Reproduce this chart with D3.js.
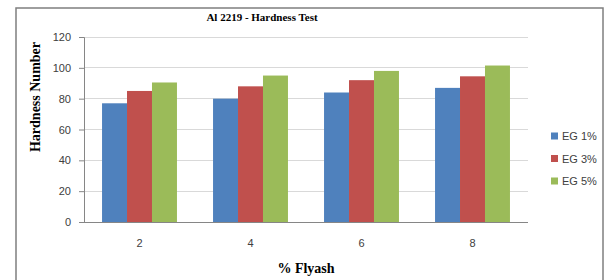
<!DOCTYPE html>
<html><head><meta charset="utf-8">
<script src="https://cdn.jsdelivr.net/npm/d3@7"></script>
<style>body{margin:0;background:#fff}svg{display:block}</style>
</head><body>
<svg id="c" width="605" height="280"></svg>
<script>
const categories = ["2", "4", "6", "8"];
const seriesNames = ["EG 1%", "EG 3%", "EG 5%"];
const eg1 = [77, 80, 84, 87];
const eg3 = [85, 88, 92, 94.5];
const eg5 = [90.5, 95, 98, 101.5];
const yTicks = [0, 20, 40, 60, 80, 100, 120];
const colors = ["#4F81BD", "#C0504D", "#9BBB59"];
const seriesValues = [eg1, eg3, eg5];

const svg = d3.select("#c");
const m = {l: 84, r: 528, t: 37, b: 222};

svg.append("rect").attr("x", 16).attr("y", 8).attr("width", 587).attr("height", 290)
  .attr("fill", "none").attr("stroke", "#7f7f7f").attr("stroke-width", 1.5);

const x = d3.scaleBand().domain(categories).range([m.l, m.r]).paddingInner(0.325).paddingOuter(0.1625);
const xs = d3.scaleBand().domain(seriesNames).range([0, x.bandwidth()]);
const y = d3.scaleLinear().domain([0, 120]).range([m.b, m.t]);

// gridlines
svg.append("g").selectAll("line").data(yTicks).join("line")
  .attr("x1", m.l).attr("x2", m.r).attr("y1", d => y(d)).attr("y2", d => y(d))
  .attr("stroke", "#d9d9d9").attr("stroke-width", 1).attr("shape-rendering", "crispEdges");

// bars
const g = svg.append("g");
seriesValues.forEach((vals, si) => {
  g.selectAll(null).data(vals).join("rect")
    .attr("x", (d, i) => x(categories[i]) + xs(seriesNames[si]))
    .attr("width", xs.bandwidth())
    .attr("y", d => y(d)).attr("height", d => y(0) - y(d))
    .attr("fill", colors[si]);
});

// y axis
const ya = svg.append("g").attr("transform", `translate(${m.l},0)`)
  .call(d3.axisLeft(y).tickValues(yTicks).tickSize(5).tickPadding(8));
ya.select(".domain").attr("stroke", "#868686");
ya.selectAll(".tick line").attr("stroke", "#868686");
ya.selectAll("text").attr("font-family", "Liberation Sans, Arial, sans-serif").attr("font-size", 11).attr("fill", "#404040");

// x axis baseline
svg.append("line").attr("x1", m.l).attr("x2", m.r).attr("y1", y(0)).attr("y2", y(0))
  .attr("stroke", "#868686").attr("shape-rendering", "crispEdges");
svg.append("g").selectAll("text").data(categories).join("text")
  .attr("x", d => x(d) + x.bandwidth() / 2).attr("y", 247)
  .attr("text-anchor", "middle").attr("font-family", "Liberation Sans, Arial, sans-serif")
  .attr("font-size", 11).attr("fill", "#404040").text(d => d);

// title
svg.append("text").attr("x", 262).attr("y", 21).attr("text-anchor", "middle")
  .attr("font-family", "Liberation Serif, Times New Roman, serif").attr("font-weight", "bold")
  .attr("font-size", 11).text("Al 2219 - Hardness Test");

// axis titles
svg.append("text").attr("transform", "translate(40,97) rotate(-90)").attr("text-anchor", "middle")
  .attr("font-family", "Liberation Serif, Times New Roman, serif").attr("font-weight", "bold")
  .attr("font-size", 14).text("Hardness Number");
svg.append("text").attr("x", 306).attr("y", 273).attr("text-anchor", "middle")
  .attr("font-family", "Liberation Serif, Times New Roman, serif").attr("font-weight", "bold")
  .attr("font-size", 14).text("% Flyash");

// legend
const lg = svg.append("g").selectAll("g").data(seriesNames).join("g")
  .attr("transform", (d, i) => `translate(551,${136 + i * 22.5})`);
lg.append("rect").attr("x", 0).attr("y", -3.5).attr("width", 7).attr("height", 7).attr("fill", (d, i) => colors[i]);
lg.append("text").attr("x", 11).attr("y", 4).attr("font-family", "Liberation Sans, Arial, sans-serif")
  .attr("font-size", 11).attr("fill", "#404040").text(d => d);
</script>
</body></html>
